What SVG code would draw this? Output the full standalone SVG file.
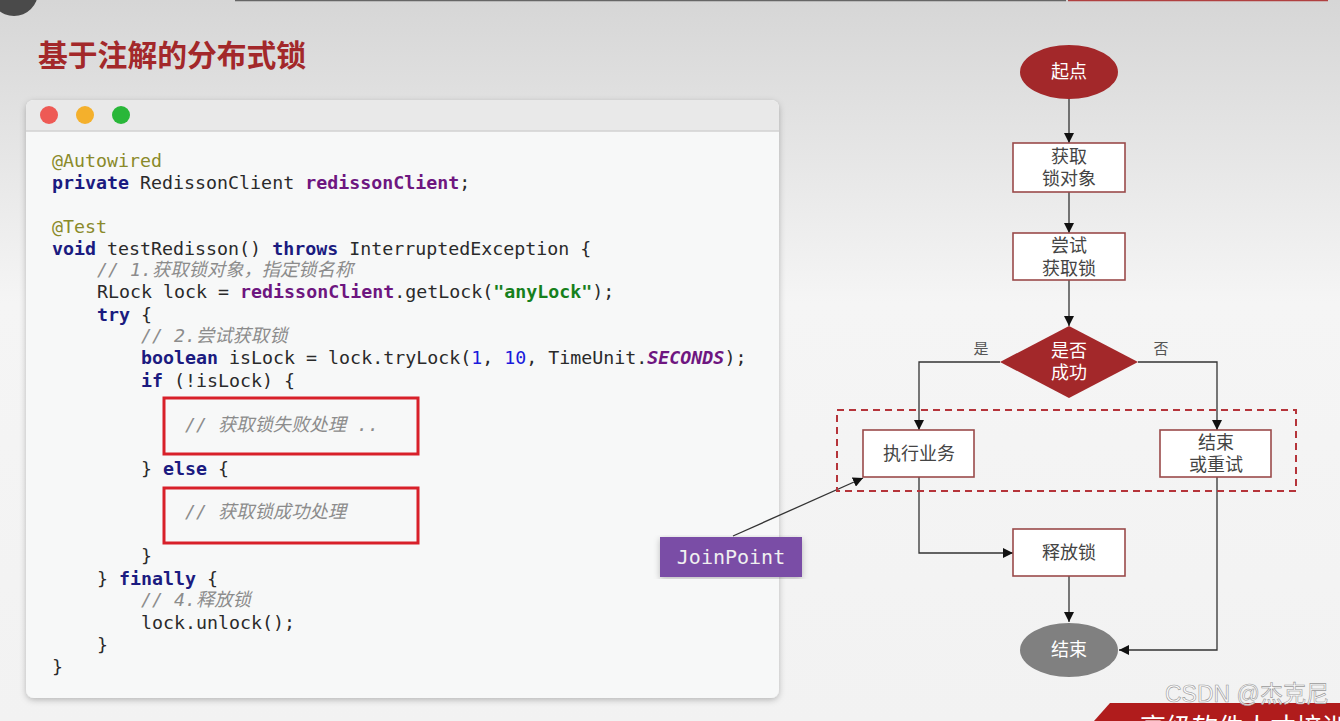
<svg xmlns="http://www.w3.org/2000/svg" width="1340" height="721" viewBox="0 0 1340 721">
<defs>
<linearGradient id="bg" x1="0" y1="0" x2="0" y2="1">
<stop offset="0" stop-color="#d6d6d6"/>
<stop offset="0.42" stop-color="#f5f5f5"/>
<stop offset="1" stop-color="#f2f2f2"/>
</linearGradient>
<filter id="sh" x="-5%" y="-5%" width="110%" height="110%">
<feDropShadow dx="0" dy="2" stdDeviation="3" flood-color="#000" flood-opacity="0.25"/>
</filter>
<marker id="ah" viewBox="0 0 10 10" refX="10" refY="5" markerWidth="10" markerHeight="10" markerUnits="userSpaceOnUse" orient="auto">
<path d="M0,0 L10,5 L0,10 z" fill="#111"/>
</marker>
<style>
.code{font-family:"DejaVu Sans Mono","Noto Sans CJK SC",monospace;font-size:18.3px;fill:#2a2a2a}
.kw{font-weight:bold;fill:#1b1b80}
.ann{fill:#8a8a2a}
.fld{font-weight:bold;fill:#6e1680}
.str{font-weight:bold;fill:#16801c}
.num{fill:#1a1adc}
.cst{font-weight:bold;font-style:italic;fill:#6e1680}
.cm{font-style:italic;fill:#8c8c8c}
.ft{font-family:"Noto Sans CJK SC",sans-serif;font-size:18px;fill:#444;text-anchor:middle}
.fw{font-family:"Noto Sans CJK SC",sans-serif;font-size:18px;fill:#fff;text-anchor:middle}
.box{fill:#fff;stroke:#9a4a4a;stroke-width:1.6}
.line{fill:none;stroke:#333;stroke-width:1.3}
.redbox{fill:none;stroke:#d8202a;stroke-width:3}
</style>
</defs>
<rect x="0" y="0" width="1340" height="721" fill="url(#bg)"/>
<line x1="235" y1="0.5" x2="1066" y2="0.5" stroke="#666" stroke-width="1.5"/>
<line x1="1068" y1="0.5" x2="1328" y2="0.5" stroke="#b04040" stroke-width="1.5"/>
<circle cx="14" cy="-8" r="24" fill="#4a4a4a"/>
<text x="38" y="65.5" font-family="'Noto Sans CJK SC',sans-serif" font-size="29.8" font-weight="bold" fill="#a3282a">基于注解的分布式锁</text>

<g id="code-window">
<rect x="26" y="100" width="753" height="598" rx="8" fill="#f7f8f8" filter="url(#sh)"/>
<path d="M26,131 V108 a8,8 0 0 1 8,-8 H771 a8,8 0 0 1 8,8 V131 z" fill="#e9e9e9"/>
<line x1="26" y1="131" x2="779" y2="131" stroke="#d2d2d2" stroke-width="1.5"/>
<circle cx="49" cy="115" r="9" fill="#ee5a55"/>
<circle cx="85" cy="115" r="9" fill="#f4b02c"/>
<circle cx="121" cy="115" r="9" fill="#29b739"/>
<g class="code">
<text x="52" y="166.5"><tspan class="ann">@Autowired</tspan></text>
<text x="52" y="188.5"><tspan class="kw">private</tspan> RedissonClient <tspan class="fld">redissonClient</tspan>;</text>
<text x="52" y="232.5"><tspan class="ann">@Test</tspan></text>
<text x="52" y="254.5"><tspan class="kw">void</tspan> testRedisson() <tspan class="kw">throws</tspan> InterruptedException {</text>
<text x="97" y="275.5" class="cm">// 1.获取锁对象，指定锁名称</text>
<text x="97" y="297.5">RLock lock = <tspan class="fld">redissonClient</tspan>.getLock(<tspan class="str">"anyLock"</tspan>);</text>
<text x="97" y="320.5"><tspan class="kw">try</tspan> {</text>
<text x="141" y="341.5" class="cm">// 2.尝试获取锁</text>
<text x="141" y="363.5"><tspan class="kw">boolean</tspan> isLock = lock.tryLock(<tspan class="num">1</tspan>, <tspan class="num">10</tspan>, TimeUnit.<tspan class="cst">SECONDS</tspan>);</text>
<text x="141" y="386.5"><tspan class="kw">if</tspan> (!isLock) {</text>
<text x="185" y="431" class="cm">//  获取锁失败处理 ..</text>
<text x="141" y="474.5">} <tspan class="kw">else</tspan> {</text>
<text x="185" y="518" class="cm">//  获取锁成功处理</text>
<text x="141" y="561.5">}</text>
<text x="97" y="584.5">} <tspan class="kw">finally</tspan> {</text>
<text x="141" y="605.5" class="cm">// 4.释放锁</text>
<text x="141" y="628.5">lock.unlock();</text>
<text x="97" y="650.5">}</text>
<text x="52" y="672.5">}</text>
</g>
<rect class="redbox" x="164" y="398" width="254" height="56"/>
<rect class="redbox" x="164" y="488" width="254" height="55"/>
</g>

<g id="connectors">
<line class="line" x1="1069" y1="99" x2="1069" y2="143" marker-end="url(#ah)"/>
<line class="line" x1="1069" y1="192" x2="1069" y2="233" marker-end="url(#ah)"/>
<line class="line" x1="1069" y1="280" x2="1069" y2="326" marker-end="url(#ah)"/>
<polyline class="line" points="1000,362 919,362 919,430" marker-end="url(#ah)"/>
<polyline class="line" points="1138,362 1217,362 1217,430" marker-end="url(#ah)"/>
<polyline class="line" points="919,477 919,553 1013,553" marker-end="url(#ah)"/>
<line class="line" x1="1069" y1="576" x2="1069" y2="622" marker-end="url(#ah)"/>
<polyline class="line" points="1217,477 1217,650 1119,650" marker-end="url(#ah)"/>
<line class="line" x1="733" y1="536" x2="863" y2="478" marker-end="url(#ah)"/>
<text x="981" y="354" font-family="'Noto Sans CJK SC',sans-serif" font-size="15" fill="#555" text-anchor="middle">是</text>
<text x="1161" y="354" font-family="'Noto Sans CJK SC',sans-serif" font-size="15" fill="#555" text-anchor="middle">否</text>
</g>

<g id="group-box">
<rect x="837" y="410" width="459" height="81" fill="none" stroke="#b5343a" stroke-width="2" stroke-dasharray="7,5"/>
</g>

<g id="start">
<ellipse cx="1069" cy="72" rx="49" ry="27" fill="#a3282a"/>
<text class="fw" x="1069" y="78">起点</text>
</g>
<g id="get-lock-object">
<rect class="box" x="1013" y="143" width="112" height="49"/>
<text class="ft" x="1069" y="163">获取<tspan x="1069" dy="22">锁对象</tspan></text>
</g>
<g id="try-lock">
<rect class="box" x="1013" y="233" width="112" height="47"/>
<text class="ft" x="1069" y="252">尝试<tspan x="1069" dy="23">获取锁</tspan></text>
</g>
<g id="decision">
<polygon points="1069,326 1138,362 1069,398 1000,362" fill="#a3282a"/>
<text class="fw" x="1069" y="357">是否<tspan x="1069" dy="22">成功</tspan></text>
</g>
<g id="execute">
<rect class="box" x="863" y="430" width="111" height="47"/>
<text class="ft" x="919" y="460">执行业务</text>
</g>
<g id="end-or-retry">
<rect class="box" x="1160" y="430" width="111" height="47"/>
<text class="ft" x="1216" y="449">结束<tspan x="1216" dy="22">或重试</tspan></text>
</g>
<g id="release">
<rect class="box" x="1013" y="529" width="112" height="47"/>
<text class="ft" x="1069" y="559">释放锁</text>
</g>
<g id="end">
<ellipse cx="1069" cy="650" rx="49" ry="27" fill="#808080"/>
<text class="fw" x="1069" y="656">结束</text>
</g>
<g id="joinpoint">
<rect x="660" y="537" width="142" height="40" fill="#7a4ea6" filter="url(#sh)"/>
<text x="731" y="564" font-family="'DejaVu Sans Mono',monospace" font-size="20" fill="#f0f0f0" text-anchor="middle">JoinPoint</text>
</g>

<g id="footer">
<polygon points="1094,721 1110,703 1340,703 1340,721" fill="#b01c1c"/>
<text x="1140" y="737" font-family="'Noto Sans CJK SC',serif" font-size="26" fill="#fff">高级软件人才培训</text>
<text x="1165" y="702" font-family="'Liberation Sans','Noto Sans CJK SC',sans-serif" font-size="23" fill="#ffffff" fill-opacity="0.85" stroke="#999" stroke-width="0.6">CSDN @杰克尼</text>
</g>
</svg>
